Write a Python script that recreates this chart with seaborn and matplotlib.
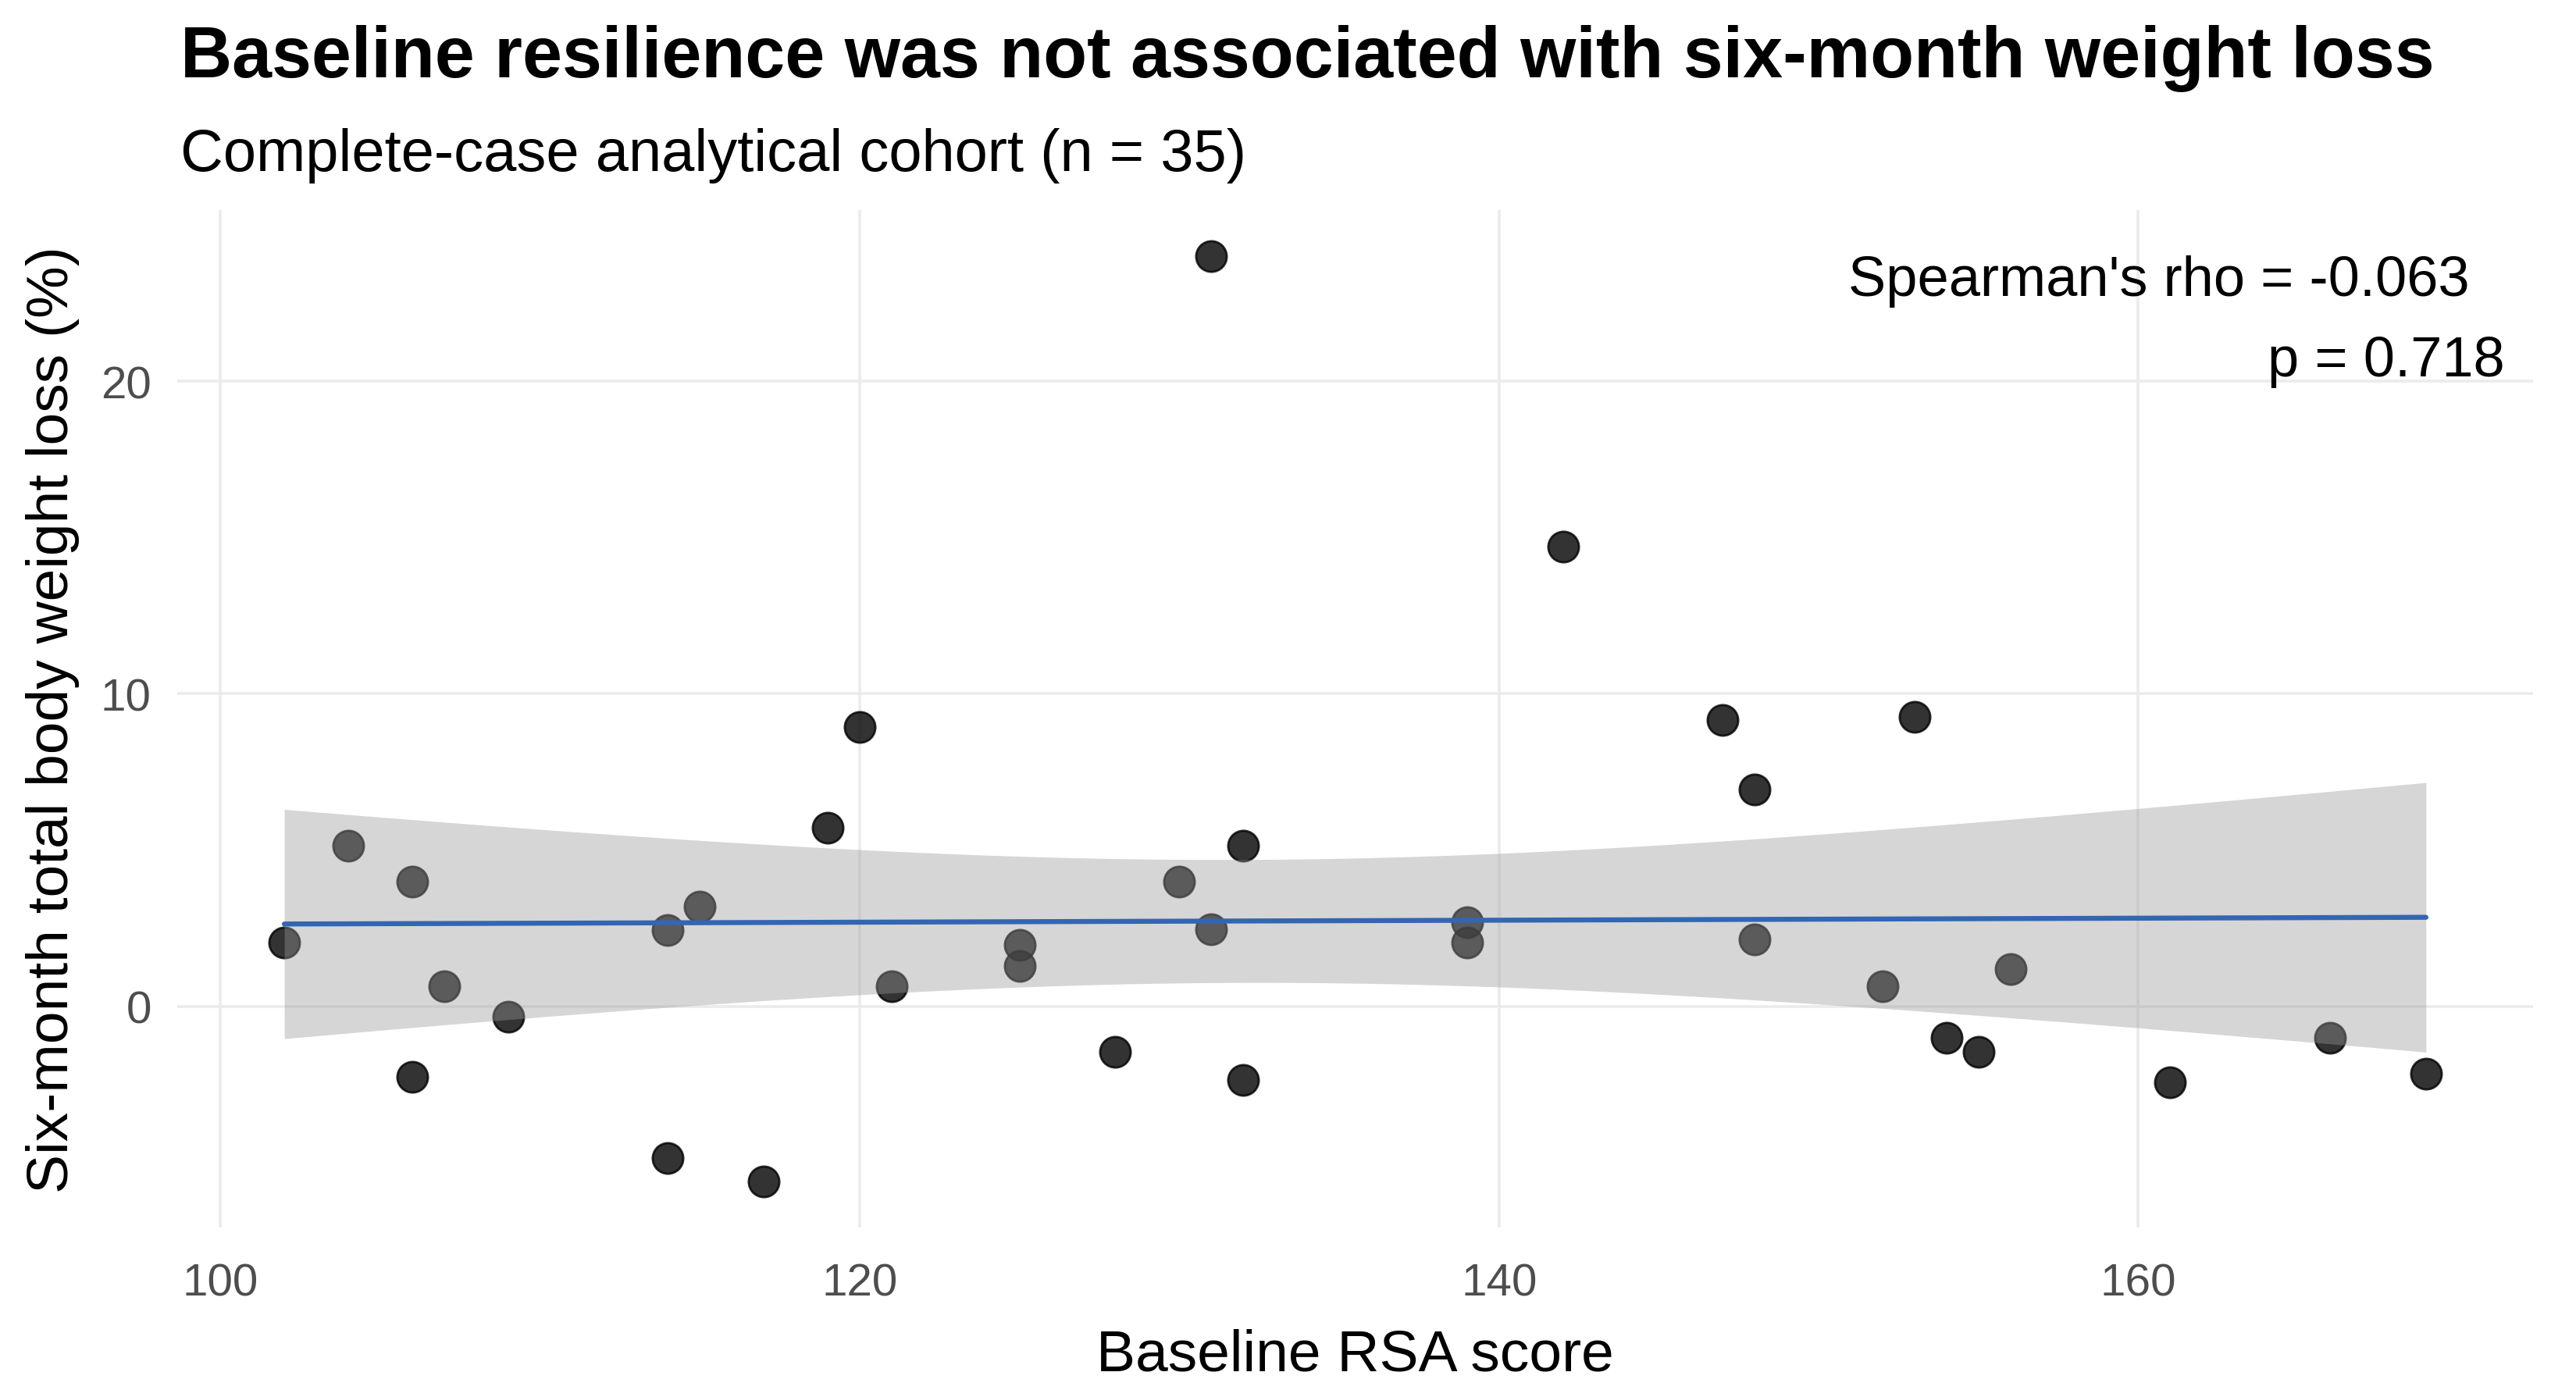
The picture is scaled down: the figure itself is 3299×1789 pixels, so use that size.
import numpy as np
import pandas as pd
import matplotlib
matplotlib.use("Agg")
import matplotlib.pyplot as plt
import seaborn as sns

# ---- data ----
rsa_score = [102, 104, 106, 106, 107, 109, 114, 114, 115, 117, 119, 120, 121,
             125, 125, 128, 130, 131, 131, 132, 132, 139, 139, 142, 147, 148,
             148, 152, 153, 154, 155, 156, 161, 166, 169]
weight_loss = [2.05, 5.15, 4.0, -2.25, 0.63, -0.33, 2.45, -4.85, 3.2, -5.6, 5.72, 8.95, 0.65,
               1.97, 1.3, -1.47, 3.98, 24.0, 2.46, 5.14, -2.35, 2.68, 2.04, 14.7, 9.16, 6.95,
               2.15, 0.65, 9.25, -1.0, -1.47, 1.2, -2.43, -1.0, -2.15]

title = "Baseline resilience was not associated with six-month weight loss"
subtitle = "Complete-case analytical cohort (n = 35)"
x_label = "Baseline RSA score"
y_label = "Six-month total body weight loss (%)"
stat_line1 = "Spearman's rho = -0.063"
stat_line2 = "p = 0.718"
x_ticks = [100, 120, 140, 160]
y_ticks = [0, 10, 20]

df = pd.DataFrame({"rsa": rsa_score, "twl": weight_loss})

sns.set_theme(style="white")
plt.rcParams["font.family"] = ["Liberation Sans", "DejaVu Sans"]

fig = plt.figure(figsize=(3299 / 200, 1790 / 200), dpi=200)
ax = fig.add_axes([227 / 3299, 1 - 1573 / 1790, (3244 - 227) / 3299, (1573 - 270) / 1790])

# points (drawn first so the ribbon lies over them, as in ggplot)
sns.scatterplot(data=df, x="rsa", y="twl", ax=ax, color="black", alpha=0.8,
                s=200, edgecolor="black", linewidth=1.0, zorder=2, legend=False)

# linear fit with analytic 95% confidence band (as geom_smooth(method = "lm"))
x = df["rsa"].to_numpy(float)
y = df["twl"].to_numpy(float)
n = len(x)
X = np.column_stack([np.ones(n), x])
beta, *_ = np.linalg.lstsq(X, y, rcond=None)
resid = y - X @ beta
s2 = resid @ resid / (n - 2)
grid = np.linspace(x.min(), x.max(), 80)
Xg = np.column_stack([np.ones_like(grid), grid])
cov = s2 * np.linalg.inv(X.T @ X)
se = np.sqrt(np.einsum("ij,jk,ik->i", Xg, cov, Xg))
tcrit = 2.0345  # t(0.975, df=33)
fit = Xg @ beta
ax.fill_between(grid, fit - tcrit * se, fit + tcrit * se, color="#999999",
                alpha=0.4, linewidth=0, zorder=3)

sns.regplot(data=df, x="rsa", y="twl", ax=ax, scatter=False, ci=None,
            truncate=True, color="#3366B2", line_kws={"linewidth": 2.3, "zorder": 4})

ax.set_xlim(98.65, 172.35)
ax.set_ylim(-7.08, 25.48)
ax.set_xticks(x_ticks)
ax.set_yticks(y_ticks)
ax.grid(True, color="#EBEBEB", linewidth=1.3)
ax.set_axisbelow(True)
for sp in ax.spines.values():
    sp.set_visible(False)
ax.tick_params(axis="both", length=0, labelsize=21, labelcolor="#4D4D4D")
ax.tick_params(axis="x", pad=16)
ax.tick_params(axis="y", pad=12)

ax.set_xlabel(x_label, fontsize=27, color="black")
ax.xaxis.label.set_va("baseline")
ax.xaxis.set_label_coords(0.5, -0.1404)
ax.set_ylabel(y_label, fontsize=27, color="black")
ax.yaxis.label.set_va("center")
ax.yaxis.set_label_coords(-0.053, 0.5)

ax.text(0.973, 0.916, stat_line1, transform=ax.transAxes, ha="right", va="baseline",
        fontsize=26, color="black")
ax.text(0.988, 0.837, stat_line2, transform=ax.transAxes, ha="right", va="baseline",
        fontsize=26, color="black")

fig.text(231 / 3299, 1 - 99 / 1790, title, ha="left", va="baseline",
         fontsize=33, fontweight="bold", color="black")
fig.text(231 / 3299, 1 - 219 / 1790, subtitle, ha="left", va="baseline",
         fontsize=27.3, color="black")

fig.savefig("out.png", dpi=200, facecolor="white")
